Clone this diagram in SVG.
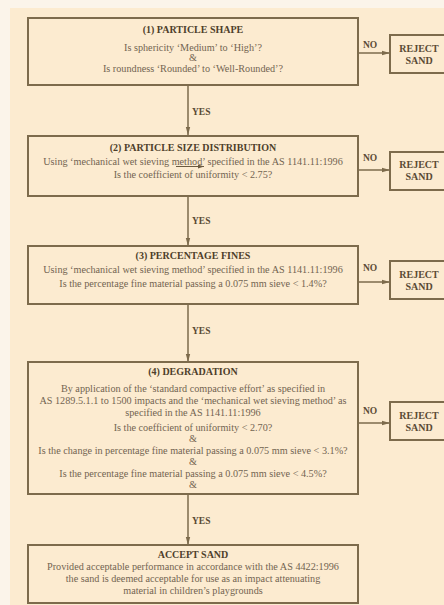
<svg xmlns="http://www.w3.org/2000/svg" width="444" height="605" viewBox="0 0 444 605">
<defs>
<marker id="ah" viewBox="0 0 8 6" refX="8" refY="3" markerWidth="8" markerHeight="6" markerUnits="userSpaceOnUse" orient="auto"><path d="M0,0.8 L8,3 L0,5.2 Z" fill="#7d6b4c"/></marker>
<marker id="ahs" viewBox="0 0 6 4" refX="6" refY="2" markerWidth="6" markerHeight="4" markerUnits="userSpaceOnUse" orient="auto"><path d="M0,0 L6,2 L0,4 Z" fill="#6b5a40"/></marker>
</defs>
<style>
.box{fill:none;stroke:#7d6b4c;stroke-width:2}
.ln{fill:none;stroke:#7d6b4c;stroke-width:1.5}
text{font-family:"Liberation Serif","Times New Roman",serif;text-anchor:middle;dominant-baseline:central}
.t{font-size:10px;font-weight:bold;fill:#4e3f2b}
.b{font-size:10.2px;fill:#726450}
.lbl{font-size:9.5px;font-weight:bold;fill:#5a4a34;text-anchor:start}
.rj{font-size:10px;font-weight:bold;fill:#5a4a34}
</style>
<rect x="0" y="0" width="444" height="605" fill="#fbf4ea"/>
<rect x="10" y="8" width="434" height="597" fill="#fcebd0"/>
<g id="connectors">
<line class="ln" x1="188" y1="85" x2="188" y2="135" marker-end="url(#ah)"/>
<line class="ln" x1="188" y1="196" x2="188" y2="246" marker-end="url(#ah)"/>
<line class="ln" x1="188" y1="304" x2="188" y2="362" marker-end="url(#ah)"/>
<line class="ln" x1="188" y1="494" x2="188" y2="545" marker-end="url(#ah)"/>
<line class="ln" x1="358" y1="53" x2="390" y2="53" marker-end="url(#ah)"/>
<line class="ln" x1="358" y1="170" x2="390" y2="170" marker-end="url(#ah)"/>
<line class="ln" x1="358" y1="282" x2="390" y2="282" marker-end="url(#ah)"/>
<line class="ln" x1="358" y1="423" x2="390" y2="423" marker-end="url(#ah)"/>
<line x1="176" y1="166.5" x2="204" y2="166.5" stroke="#6b5a40" stroke-width="1" marker-end="url(#ahs)"/>
<text class="lbl" x="192" y="112">YES</text>
<text class="lbl" x="192" y="221">YES</text>
<text class="lbl" x="192" y="331">YES</text>
<text class="lbl" x="192" y="521">YES</text>
<text class="lbl" x="363" y="45">NO</text>
<text class="lbl" x="363" y="158">NO</text>
<text class="lbl" x="363" y="268">NO</text>
<text class="lbl" x="363" y="411">NO</text>
</g>
<g id="n1">
<rect class="box" x="28" y="18" width="330" height="67"/>
<text class="t" x="193" y="29">(1) PARTICLE SHAPE</text>
<text class="b" x="193" y="47">Is sphericity ‘Medium’ to ‘High’?</text>
<text class="b" x="193" y="57">&amp;</text>
<text class="b" x="193" y="68">Is roundness ‘Rounded’ to ‘Well-Rounded’?</text>
</g>
<g id="r1">
<rect class="box" x="390" y="35" width="58" height="38"/>
<text class="rj" x="419" y="48">REJECT</text>
<text class="rj" x="419" y="60">SAND</text>
</g>
<g id="n2">
<rect class="box" x="28" y="136" width="330" height="60"/>
<text class="t" x="193" y="147">(2) PARTICLE SIZE DISTRIBUTION</text>
<text class="b" x="193" y="161">Using ‘mechanical wet sieving method’ specified in the AS 1141.11:1996</text>
<text class="b" x="193" y="174">Is the coefficient of uniformity &lt; 2.75?</text>
</g>
<g id="r2">
<rect class="box" x="390" y="152" width="58" height="38"/>
<text class="rj" x="419" y="164">REJECT</text>
<text class="rj" x="419" y="176">SAND</text>
</g>
<g id="n3">
<rect class="box" x="28" y="246" width="330" height="58"/>
<text class="t" x="193" y="255">(3) PERCENTAGE FINES</text>
<text class="b" x="193" y="269">Using ‘mechanical wet sieving method’ specified in the AS 1141.11:1996</text>
<text class="b" x="193" y="283">Is the percentage fine material passing a 0.075 mm sieve &lt; 1.4%?</text>
</g>
<g id="r3">
<rect class="box" x="390" y="261" width="58" height="38"/>
<text class="rj" x="419" y="274">REJECT</text>
<text class="rj" x="419" y="286">SAND</text>
</g>
<g id="n4">
<rect class="box" x="28" y="362" width="330" height="132"/>
<text class="t" x="193" y="371">(4) DEGRADATION</text>
<text class="b" x="193" y="388">By application of the ‘standard compactive effort’ as specified in</text>
<text class="b" x="193" y="400">AS 1289.5.1.1 to 1500 impacts and the ‘mechanical wet sieving method’ as</text>
<text class="b" x="193" y="412">specified in the AS 1141.11:1996</text>
<text class="b" x="193" y="427">Is the coefficient of uniformity &lt; 2.70?</text>
<text class="b" x="193" y="438">&amp;</text>
<text class="b" x="193" y="450">Is the change in percentage fine material passing a 0.075 mm sieve &lt; 3.1%?</text>
<text class="b" x="193" y="461">&amp;</text>
<text class="b" x="193" y="473">Is the percentage fine material passing a 0.075 mm sieve &lt; 4.5%?</text>
<text class="b" x="193" y="484">&amp;</text>
</g>
<g id="r4">
<rect class="box" x="390" y="402" width="58" height="38"/>
<text class="rj" x="419" y="415">REJECT</text>
<text class="rj" x="419" y="427">SAND</text>
</g>
<g id="n5">
<rect class="box" x="28" y="545" width="330" height="58"/>
<text class="t" x="193" y="554">ACCEPT SAND</text>
<text class="b" x="193" y="566">Provided acceptable performance in accordance with the AS 4422:1996</text>
<text class="b" x="193" y="578">the sand is deemed acceptable for use as an impact attenuating</text>
<text class="b" x="193" y="590">material in children’s playgrounds</text>
</g>
</svg>
